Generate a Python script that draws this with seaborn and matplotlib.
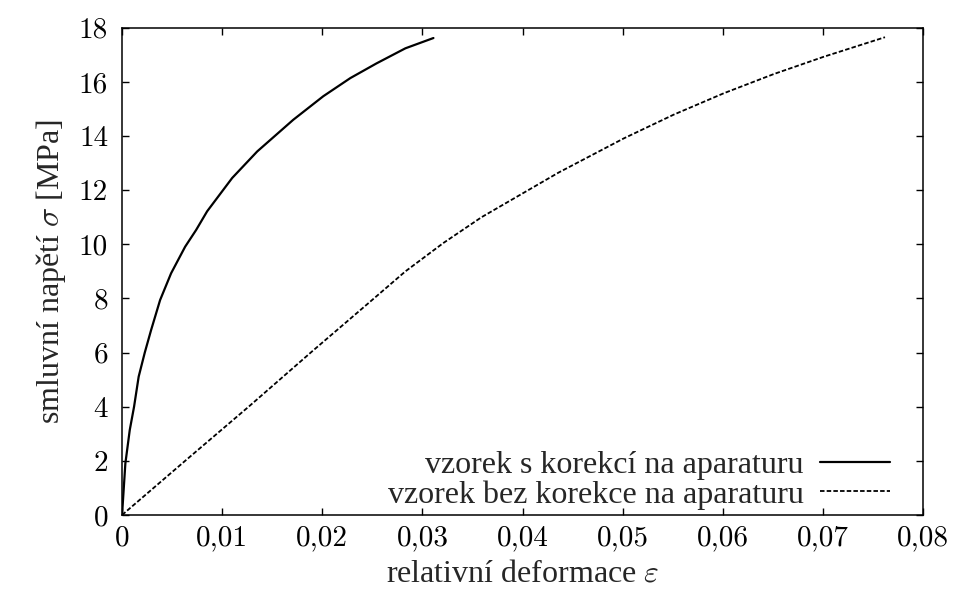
import numpy as np
import pandas as pd
import matplotlib
matplotlib.use('Agg')
import matplotlib.pyplot as plt
import seaborn as sns
from matplotlib.ticker import FuncFormatter

# vzorek s korekci na aparaturu
eps_s = [0, 0.00033, 0.00077, 0.0012, 0.00166, 0.00227, 0.0029, 0.0038, 0.0049,
         0.0063, 0.0074, 0.0085, 0.0110, 0.0135, 0.0171, 0.0201, 0.0228, 0.0254,
         0.0283, 0.0311]
sig_s = [0, 1.9, 3.14, 4.0, 5.11, 6.0, 6.83, 7.94, 8.93,
         9.91, 10.53, 11.22, 12.45, 13.43, 14.60, 15.47, 16.14, 16.68,
         17.24, 17.62]

# vzorek bez korekce na aparaturu
eps_b = [0, 0.0063, 0.0128, 0.0190, 0.0250, 0.0283, 0.0321, 0.0359, 0.0401,
         0.0436, 0.0501, 0.0551, 0.0601, 0.0651, 0.0701, 0.0762]
sig_b = [0, 2.0, 4.05, 6.05, 7.95, 9.0, 10.05, 11.0, 11.9,
         12.65, 13.91, 14.79, 15.58, 16.29, 16.93, 17.65]

label_s = 'vzorek s korekcí na aparaturu'
label_b = 'vzorek bez korekce na aparaturu'

xticks = [0, 0.01, 0.02, 0.03, 0.04, 0.05, 0.06, 0.07, 0.08]
yticks = list(range(0, 19, 2))

sns.set_theme(style='ticks')
plt.rcParams['font.family'] = ['Liberation Serif', 'DejaVu Serif']
plt.rcParams['mathtext.fontset'] = 'cm'
plt.rcParams['font.size'] = 23

df = pd.concat([
    pd.DataFrame({'eps': eps_s, 'sig': sig_s, 'serie': label_s}),
    pd.DataFrame({'eps': eps_b, 'sig': sig_b, 'serie': label_b}),
])

fig = plt.figure(figsize=(9.61, 5.94), dpi=100)
ax = fig.add_axes([0.127, 0.133, 0.8335, 0.8203])

sns.lineplot(data=df[df.serie == label_s], x='eps', y='sig', ax=ax, color='black',
             lw=1.6, sort=False, estimator=None, label=label_s)
sns.lineplot(data=df[df.serie == label_b], x='eps', y='sig', ax=ax, color='black',
             lw=1.3, sort=False, estimator=None, label=label_b)
ax.lines[1].set_dashes((2.5, 1.2))

ax.set_xlim(0, 0.08)
ax.set_ylim(0, 18)
ax.set_xticks(xticks)
ax.set_yticks(yticks)

def fmt(v, pos):
    if abs(v) < 1e-12:
        return '0'
    if abs(v - round(v)) < 1e-9:
        return str(int(round(v)))
    return f'{v:.2f}'.replace('.', ',')

ax.xaxis.set_major_formatter(FuncFormatter(fmt))
ax.yaxis.set_major_formatter(FuncFormatter(fmt))
ax.tick_params(direction='in', length=5, width=1, top=True, right=True,
               labelsize=21, colors='black', labelfontfamily='cmr10')
ax.tick_params(axis='x', pad=7)
ax.tick_params(axis='y', pad=10)
for s in ax.spines.values():
    s.set_linewidth(1.1)
    s.set_color('black')

ax.set_xlabel(r'relativní deformace $\varepsilon$', fontsize=23, labelpad=6)
ax.set_ylabel(r'smluvní napětí $\sigma$ [MPa]', fontsize=23, labelpad=8)

ax.legend(loc='lower right', bbox_to_anchor=(0.975, -0.015), markerfirst=False,
          frameon=False, fontsize=23, handlelength=2.2, handletextpad=0.5,
          labelspacing=0.0, borderpad=0.2, borderaxespad=0.2)

fig.savefig('out.png', dpi=100)
